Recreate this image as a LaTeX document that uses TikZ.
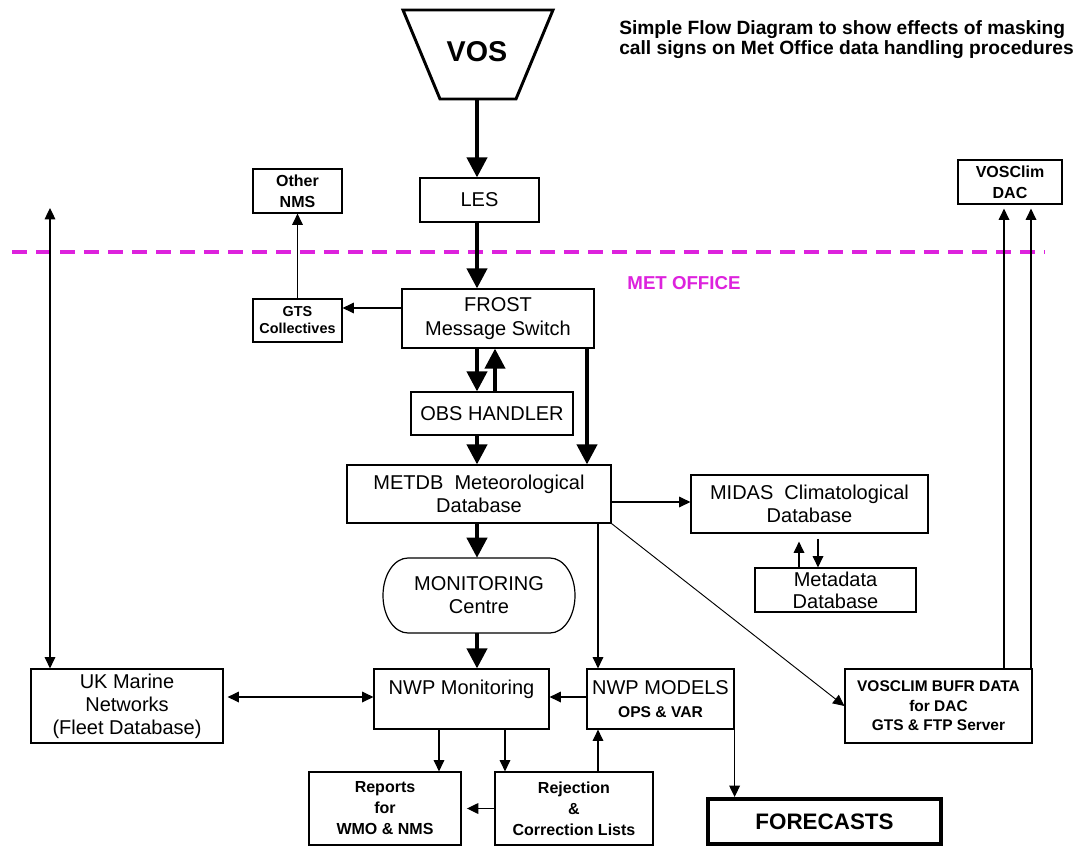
\documentclass[tikz,border=0pt]{standalone}
\usepackage{fontspec}
\setmainfont{Liberation Sans}
\usetikzlibrary{arrows.meta,calc}
\definecolor{mag}{RGB}{221,34,221}
\tikzset{
  box/.style={draw, line width=0.9pt, inner sep=0pt, align=center},
  rg/.style={font=\fontsize{15pt}{17.25pt}\selectfont},
  bd/.style={font=\fontsize{12pt}{15.75pt}\selectfont\bfseries},
  thk/.style={line width=3pt, -{Triangle[length=15pt,width=15pt]}},
  thn/.style={line width=0.9pt, -{Triangle[length=8.5pt,width=8pt]}},
  both/.style={line width=0.9pt, {Triangle[length=8.5pt,width=8pt]}-{Triangle[length=8.5pt,width=8pt]}},
}
\begin{document}
\begin{tikzpicture}[x=0.75pt,y=-0.75pt]
\fill[white] (0,0) rectangle (1086,846);
\useasboundingbox (0,0) rectangle (1086,846);

% title
\node[anchor=north west, align=left, inner sep=0pt,
  font=\fontsize{14.4pt}{15.5pt}\selectfont\bfseries] (title) at (619,20)
  {Simple Flow Diagram to show effects of masking\\call signs on Met Office data handling procedures};

% Met Office boundary
\draw[mag, line width=3pt, dash pattern=on 11.25pt off 6.75pt] (12,252) -- (1045,252);
\node[text=mag, font=\fontsize{14pt}{16pt}\selectfont\bfseries] (metoff) at (684,283) {MET OFFICE};

% VOS
\draw[line width=2.2pt] (403,10) -- (553,10) -- (516,99) -- (440,99) -- cycle;
\node[font=\fontsize{21.5pt}{24pt}\selectfont\bfseries] (vos) at (477,52) {VOS};
\coordinate (vosb) at (477,99);

% boxes
\node[box, rg, minimum width=89.25pt, minimum height=33pt] (les) at (479.5,200) {LES};
\node[box, bd, minimum width=66.75pt, minimum height=33pt] (othernms) at (297.5,191) {Other\\NMS};
\node[box, bd, minimum width=78pt, minimum height=33pt] (dac) at (1010,182) {VOSClim\\DAC};
\node[box, minimum width=66.75pt, minimum height=32.25pt, font=\fontsize{10.8pt}{12.75pt}\selectfont\bfseries] (gts) at (297.5,320.5) {GTS\\Collectives};
\node[box, minimum width=144pt, minimum height=44.25pt, font=\fontsize{15pt}{18pt}\selectfont] (frost) at (498,318.5) {FROST\\Message Switch};
\node[box, rg, minimum width=121.5pt, minimum height=32.25pt] (obs) at (492,413.5) {OBS HANDLER};
\node[box, rg, minimum width=198pt, minimum height=43.5pt] (metdb) at (479,494) {METDB\ \ Meteorological\\Database};
\node[box, rg, minimum width=177.75pt, minimum height=43.5pt] (midas) at (809.5,504) {MIDAS\ \ Climatological\\Database};
\node[box, minimum width=120.75pt, minimum height=33pt, font=\fontsize{15pt}{16.5pt}\selectfont] (metadata) at (835.5,590) {Metadata\\Database};

\draw[line width=0.9pt] (408,558) -- (550,558)
  arc[start angle=-90, end angle=90, x radius=25, y radius=37.5] -- (408,633)
  arc[start angle=90, end angle=270, x radius=25, y radius=37.5] -- cycle;
\node[rg, inner sep=0pt, align=center, minimum width=144pt, minimum height=56.25pt] (mon) at (479,595.5) {MONITORING\\Centre};

\node[box, rg, minimum width=131.25pt, minimum height=45pt] (nwpmon) at (461.5,699) {NWP Monitoring\\\mbox{}};
\node[box, rg, minimum width=110.25pt, minimum height=45pt] (nwpmod) at (660.5,699) {NWP MODELS\\{\fontsize{11.7pt}{15pt}\selectfont\bfseries OPS \& VAR}};
\node[box, rg, minimum width=144pt, minimum height=55.5pt] (ukm) at (127,706) {UK Marine\\Networks\\(Fleet Database)};
\node[box, bd, minimum width=114pt, minimum height=54.75pt] (reports) at (385,808.5) {Reports\\for\\WMO \& NMS};
\node[box, bd, minimum width=118.5pt, minimum height=54.75pt] (rej) at (574,808.5) {Rejection\\\&\\Correction Lists};
\node[box, line width=3pt, minimum width=174.75pt, minimum height=33.75pt, font=\fontsize{16.8pt}{20pt}\selectfont\bfseries] (fc) at (824.5,821.5) {FORECASTS};
\node[box, minimum width=140.25pt, minimum height=55.5pt, font=\fontsize{11.6pt}{14.6pt}\selectfont\bfseries] (vosclim) at (938.5,706) {VOSCLIM BUFR DATA\\for DAC\\GTS \& FTP Server};

% helper coordinates
\coordinate (gtsy) at (0,308);
\coordinate (xup) at (495,0);
\coordinate (xfr) at (587,0);
\coordinate (xmd) at (598,0);
\coordinate (ymid) at (0,502);
\coordinate (xa) at (799,0);
\coordinate (xb) at (818,0);
\coordinate (y697) at (0,697);
\coordinate (lt) at (50,208);
\coordinate (xr1) at (439,0);
\coordinate (xr2) at (505,0);
\coordinate (xd1) at (1004,0);
\coordinate (xd2) at (1031,0);

% connectors
\draw[thk] (vosb) -- (vosb |- les.north);
\draw[thk] (les.south -| vosb) -- (frost.north -| vosb);
\draw[thn] (frost.west |- gtsy) -- (gts.east |- gtsy);
\draw[thn] (gts.north) -- (othernms.south);
\draw[thk] (frost.south -| vosb) -- (obs.north -| vosb);
\draw[thk] (obs.north -| xup) -- (frost.south -| xup);
\draw[thk] (frost.south -| xfr) -- (metdb.north -| xfr);
\draw[thk] (obs.south -| vosb) -- (metdb.north -| vosb);
\draw[thn] (metdb.east |- ymid) -- (midas.west |- ymid);
\draw[thn, shorten >=6pt] (metadata.north -| xa) -- (midas.south -| xa);
\draw[thn, shorten <=4pt] (midas.south -| xb) -- (metadata.north -| xb);
\draw[thk] (metdb.south -| vosb) -- (mon.north -| vosb);
\draw[thn] (metdb.south -| xmd) -- (nwpmod.north -| xmd);
\draw[thn, line width=0.7pt] (metdb.south east) -- (vosclim.west);
\draw[thk] (mon.south -| vosb) -- (nwpmon.north -| vosb);
\draw[thn] (nwpmod.west |- y697) -- (nwpmon.east |- y697);
\draw[both, shorten <=3pt] (ukm.east |- y697) -- (nwpmon.west |- y697);
\draw[both] (ukm.north -| lt) -- (lt);
\draw[thn] (nwpmon.south -| xr1) -- (reports.north -| xr1);
\draw[thn] (nwpmon.south -| xr2) -- (rej.north -| xr2);
\draw[thn, shorten >=4pt] (rej.west) -- (reports.east);
\draw[thn] (rej.north -| xmd) -- (nwpmod.south -| xmd);
\draw[thn] (nwpmod.south east) -- (nwpmod.south east |- fc.north);
\draw[thn, shorten >=3pt] (vosclim.north -| xd1) -- (dac.south -| xd1);
\draw[thn, shorten >=3pt] (vosclim.north -| xd2) -- (dac.south -| xd2);
\end{tikzpicture}
\end{document}
